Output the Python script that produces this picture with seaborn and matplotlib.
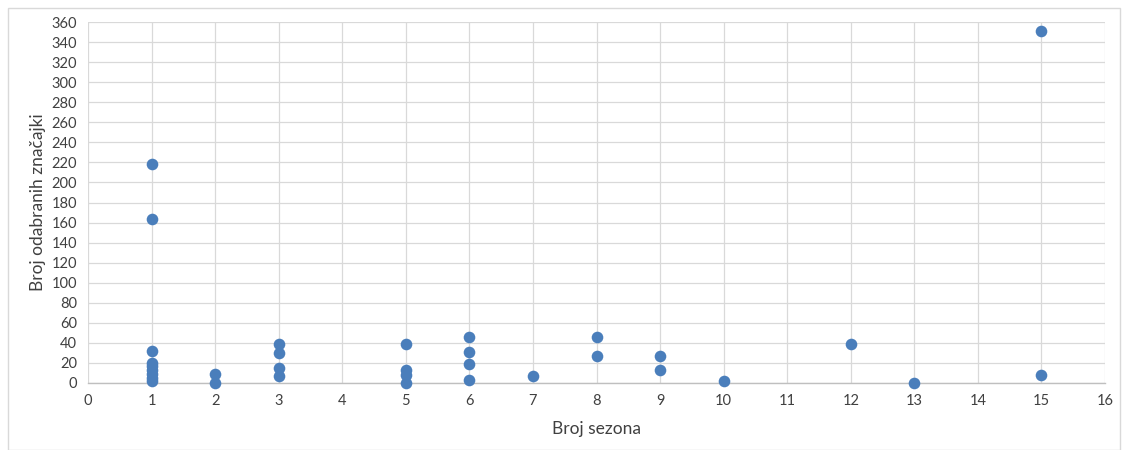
import matplotlib.pyplot as plt
import matplotlib.patches as patches
import pandas as pd
import seaborn as sns

# broj sezona i broj odabranih značajki (očitano s grafa)
sezone = [1, 1, 1, 1, 1, 1, 1, 1, 1,
          2, 2,
          3, 3, 3, 3,
          5, 5, 5, 5,
          6, 6, 6, 6,
          7,
          8, 8,
          9, 9,
          10,
          12,
          13,
          15, 15]
znacajke = [218, 164, 32, 20, 17, 13, 9, 5, 2,
            9, 0,
            39, 30, 15, 7,
            39, 13, 8, 0,
            46, 31, 19, 3,
            7,
            46, 27,
            27, 13,
            2,
            39,
            0,
            351, 8]

x_ticks = list(range(0, 17))
y_ticks = list(range(0, 361, 20))

df = pd.DataFrame({"sezone": sezone, "znacajke": znacajke})

sns.set_style("white")
plt.rcParams["font.family"] = ["Lato", "DejaVu Sans"]

fig = plt.figure(figsize=(11.23, 4.5), dpi=100)
ax = fig.add_axes([88 / 1123, 1 - 383 / 450, (1105 - 88) / 1123, (383 - 22) / 450])

sns.scatterplot(
    data=df,
    x="sezone",
    y="znacajke",
    ax=ax,
    s=70,
    color="#4a7ebb",
    linewidth=0,
    zorder=3,
    clip_on=False,
)

ax.set_xlim(0, 16)
ax.set_ylim(0, 360)
ax.set_xticks(x_ticks)
ax.set_yticks(y_ticks)
ax.tick_params(axis="both", length=0, labelsize=10.5, colors="#404040", pad=8)
ax.grid(True, color="#d9d9d9", linewidth=0.9)
ax.set_axisbelow(True)

for side in ["top", "right", "left"]:
    ax.spines[side].set_visible(False)
ax.spines["bottom"].set_color("#bfbfbf")
ax.spines["bottom"].set_linewidth(1)

ax.set_xlabel("Broj sezona", fontsize=12.5, color="#404040", labelpad=9)
ax.set_ylabel("Broj odabranih značajki", fontsize=12.5, color="#404040", labelpad=4)

# okvir oko grafikona
fig.patches.append(
    patches.Rectangle(
        (8 / 1123, 0), (1120 - 8) / 1123, 1 - 8 / 450,
        transform=fig.transFigure, fill=False, edgecolor="#d9d9d9", linewidth=1,
    )
)

fig.savefig("out.png", dpi=100)
plt.close(fig)
